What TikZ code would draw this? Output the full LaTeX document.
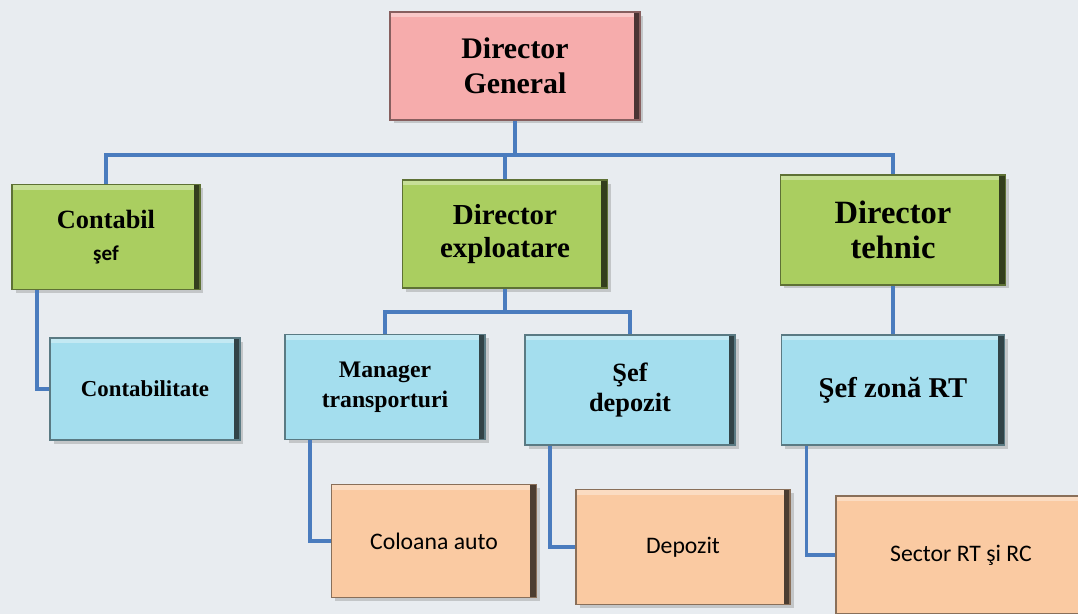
\documentclass[tikz,border=0pt]{standalone}
\usepackage{fontspec}
\setmainfont{Liberation Serif}
\newfontfamily\calibfont{Carlito}
\usetikzlibrary{positioning,calc,shadows}

\definecolor{bgcol}{RGB}{232,236,240}
\definecolor{pinkbox}{RGB}{246,172,172}
\definecolor{greenbox}{RGB}{170,206,96}
\definecolor{bluebox}{RGB}{164,222,238}
\definecolor{orangebox}{RGB}{250,202,162}
\definecolor{linkcol}{RGB}{74,124,190}

\begin{document}
\begin{tikzpicture}[x=0.02cm, y=-0.02cm,
    box/.style={rectangle, draw=#1!55!black, line width=1.1pt, fill=#1,
        inner sep=0pt, align=center,
        drop shadow={opacity=0.35, shadow xshift=2pt, shadow yshift=-2pt},
        path picture={
            \fill[white, opacity=0.35] (path picture bounding box.north west)
                rectangle ([yshift=-3pt]path picture bounding box.north east);
            \fill[#1!30!black] ([xshift=-3.5pt]path picture bounding box.north east)
                rectangle (path picture bounding box.south east);
        }},
    link/.style={draw=linkcol, line width=1.8pt}]

    \useasboundingbox (0,0) rectangle (1078,614);
    \clip (0,0) rectangle (1078,614);
    \fill[bgcol] (0,0) rectangle (1078,614);

    % Top
    \node[box=pinkbox, minimum width=5cm, minimum height=2.16cm,
        font=\fontsize{17}{20}\bfseries\selectfont] (dg) at (515,66) {Director\\General};

    % Directors
    \node[box=greenbox, minimum width=3.76cm, minimum height=2.1cm,
        font=\fontsize{15}{18}\bfseries\selectfont] (contabil) at (106,237)
        {Contabil\\{\calibfont\fontsize{12}{14}\selectfont şef}};
    \node[box=greenbox, minimum width=4.1cm, minimum height=2.16cm,
        font=\fontsize{16.5}{19}\bfseries\selectfont] (expl) at (505,234) {Director\\exploatare};
    \node[box=greenbox, minimum width=4.5cm, minimum height=2.2cm,
        font=\fontsize{18.5}{20}\bfseries\selectfont] (tehnic) at (893,230) {Director\\tehnic};

    % Managers
    \node[box=bluebox, minimum width=3.8cm, minimum height=2.04cm,
        font=\fontsize{13}{16}\bfseries\selectfont] (contabilitate) at (145,389) {Contabilitate};
    \node[box=bluebox, minimum width=4cm, minimum height=2.1cm,
        font=\fontsize{13.5}{17}\bfseries\selectfont] (manager) at (385,387) {Manager\\transporturi};
    \node[box=bluebox, minimum width=4.2cm, minimum height=2.2cm,
        font=\fontsize{15}{17}\bfseries\selectfont] (sefdep) at (630,390) {Şef\\depozit};
    \node[box=bluebox, minimum width=4.46cm, minimum height=2.2cm,
        font=\fontsize{16.3}{19}\bfseries\selectfont] (sefzona) at (893,390) {Şef zonă RT};

    % Units
    \node[box=orangebox, minimum width=4.1cm, minimum height=2.26cm,
        font=\calibfont\fontsize{13.5}{16}\selectfont] (coloana) at (434,541) {Coloana auto};
    \node[box=orangebox, minimum width=4.28cm, minimum height=2.3cm,
        font=\calibfont\fontsize{13.5}{16}\selectfont] (depozit) at (683,547) {Depozit};
    \node[box=orangebox, minimum width=5cm, minimum height=2.36cm,
        font=\calibfont\fontsize{13.5}{16}\selectfont] (sector) at (961,555) {Sector RT şi RC};

    % Connectors
    \coordinate (bus) at (515,155);
    \draw[link] (dg.south) -- (bus);
    \foreach \n in {contabil,expl,tehnic}
        \draw[link] (bus) -| (\n.north);

    \coordinate (ebus) at (505,312);
    \draw[link] (expl.south) -- (ebus);
    \foreach \n in {manager,sefdep}
        \draw[link] (ebus) -| (\n.north);

    \draw[link] (tehnic.south) -- (sefzona.north);

    \foreach \up/\down in {contabil/contabilitate, manager/coloana, sefdep/depozit, sefzona/sector}
        \draw[link] ([xshift=0.52cm]\up.south west) |- (\down.west);
\end{tikzpicture}
\end{document}
